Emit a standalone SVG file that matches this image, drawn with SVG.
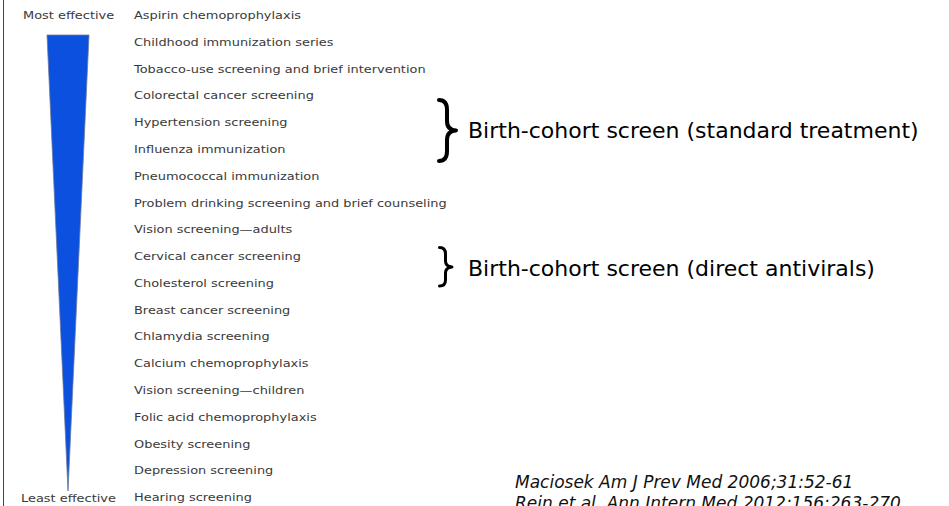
<svg xmlns="http://www.w3.org/2000/svg" width="949" height="506" viewBox="0 0 949 506">
<style>
.sm{font-family:"DejaVu Sans","Liberation Sans",sans-serif;font-size:11px;fill:#3a3a3a}
.big{font-family:"DejaVu Sans","Liberation Sans",sans-serif;font-size:22px;fill:#000}
.cite{font-family:"DejaVu Sans","Liberation Sans",sans-serif;font-size:17px;font-style:italic;fill:#111}
.brace{fill:none;stroke:#000;stroke-linecap:round;stroke-linejoin:round}
</style>
<rect width="949" height="506" fill="#fff"/>
<line x1="3.5" y1="0" x2="3.5" y2="506" stroke="#444" stroke-width="1"/>
<g id="gradient-wedge">
<polygon points="47,35 89,35 68,491" fill="#0B50DE" stroke="#6a7aa0" stroke-width="0.8"/>
</g>
<g id="label-most">
<text class="sm" transform="translate(23,19) scale(1.175,1)">Most effective</text>
</g>
<g id="label-least">
<text class="sm" transform="translate(21,501.5) scale(1.175,1)">Least effective</text>
</g>
<g id="services" class="sm">
<text transform="translate(134,19) scale(1.175,1)">Aspirin chemoprophylaxis</text>
<text transform="translate(134,45.8) scale(1.175,1)">Childhood immunization series</text>
<text transform="translate(134,72.6) scale(1.175,1)">Tobacco-use screening and brief intervention</text>
<text transform="translate(134,99.3) scale(1.175,1)">Colorectal cancer screening</text>
<text transform="translate(134,126.1) scale(1.175,1)">Hypertension screening</text>
<text transform="translate(134,152.9) scale(1.175,1)">Influenza immunization</text>
<text transform="translate(134,179.7) scale(1.175,1)">Pneumococcal immunization</text>
<text transform="translate(134,206.5) scale(1.175,1)">Problem drinking screening and brief counseling</text>
<text transform="translate(134,233.2) scale(1.175,1)">Vision screening—adults</text>
<text transform="translate(134,260) scale(1.175,1)">Cervical cancer screening</text>
<text transform="translate(134,286.8) scale(1.175,1)">Cholesterol screening</text>
<text transform="translate(134,313.6) scale(1.175,1)">Breast cancer screening</text>
<text transform="translate(134,340.4) scale(1.175,1)">Chlamydia screening</text>
<text transform="translate(134,367.1) scale(1.175,1)">Calcium chemoprophylaxis</text>
<text transform="translate(134,393.9) scale(1.175,1)">Vision screening—children</text>
<text transform="translate(134,420.7) scale(1.175,1)">Folic acid chemoprophylaxis</text>
<text transform="translate(134,447.5) scale(1.175,1)">Obesity screening</text>
<text transform="translate(134,474.3) scale(1.175,1)">Depression screening</text>
<text transform="translate(134,501) scale(1.175,1)">Hearing screening</text>
</g>
<g id="birth-cohort-standard">
<path class="brace" stroke-width="4" d="M439,100 Q447,100 447,110 L447,121 Q447,130 456,130.5 Q447,131 447,140 L447,151 Q447,161 439,161"/>
<text class="big" x="468" y="138">Birth-cohort screen (standard treatment)</text>
</g>
<g id="birth-cohort-direct">
<path class="brace" stroke-width="3" d="M439.5,247.5 Q445.5,247.5 445.5,254 L445.5,261 Q445.5,266.5 452,267 Q445.5,267.5 445.5,273 L445.5,280 Q445.5,286 439.5,286"/>
<text class="big" x="468" y="276">Birth-cohort screen (direct antivirals)</text>
</g>
<g id="citations" class="cite">
<text x="515" y="488">Maciosek Am J Prev Med 2006;31:52-61</text>
<text x="515" y="509">Rein et al. Ann Intern Med 2012;156:263-270</text>
</g>
</svg>
